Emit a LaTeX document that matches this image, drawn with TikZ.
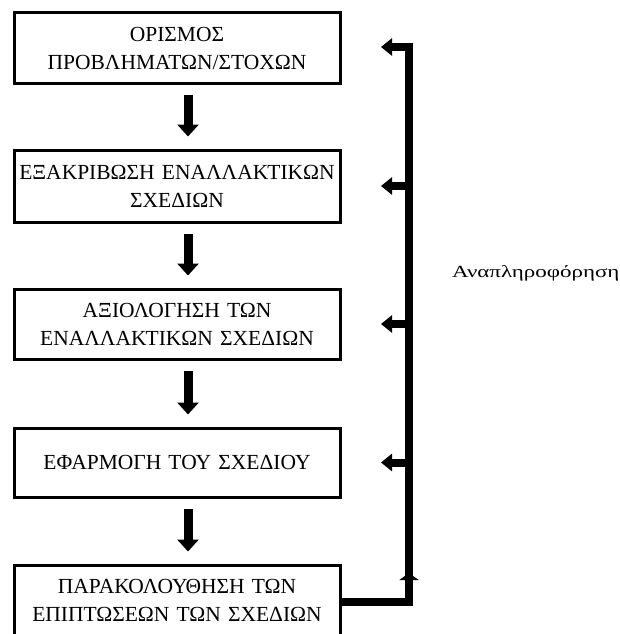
\documentclass[tikz,border=0pt]{standalone}
\usepackage{fontspec}
\setmainfont{Liberation Serif}
\newfontfamily\widefont[FakeStretch=1.35]{Liberation Serif}
\usetikzlibrary{calc}
\usetikzlibrary{arrows.meta}

\tikzset{
	stage/.style={draw, line width=3pt, minimum width=326pt, minimum height=70pt, text width=326pt, align=center, inner sep=0pt, font=\fontsize{21.5}{28}\selectfont},
	flowarrow/.style={line width=9pt, -{Triangle[length=12pt,width=21pt]}, shorten <=10pt, shorten >=12pt},
	fbarrow/.style={line width=8pt, -{Triangle[length=11pt,width=17pt]}},
}

\begin{document}
\begin{tikzpicture}[x=1pt,y=-1pt]
					\useasboundingbox (0,0) rectangle (619,634);
					\node[stage] (b1) at (177,48) {ΟΡΙΣΜΟΣ\\ΠΡΟΒΛΗΜΑΤΩΝ/ΣΤΟΧΩΝ};
					\node[stage, minimum height=72pt] (b2) at (177,186) {ΕΞΑΚΡΙΒΩΣΗ ΕΝΑΛΛΑΚΤΙΚΩΝ\\ΣΧΕΔΙΩΝ};
					\node[stage] (b3) at (177,324) {ΑΞΙΟΛΟΓΗΣΗ ΤΩΝ\\ΕΝΑΛΛΑΚΤΙΚΩΝ ΣΧΕΔΙΩΝ};
					\node[stage, minimum height=69pt] (b4) at (177,462.5) {ΕΦΑΡΜΟΓΗ ΤΟΥ ΣΧΕΔΙΟΥ};
					\node[stage] (b5) at (177,600) {ΠΑΡΑΚΟΛΟΥΘΗΣΗ ΤΩΝ\\ΕΠΙΠΤΩΣΕΩΝ ΤΩΝ ΣΧΕΔΙΩΝ};
					\node[anchor=base west, inner sep=0pt, font=\widefont\fontsize{17}{20}\selectfont] (fb) at (452,277) {Αναπληροφόρηση};

					\foreach \a/\b in {b1/b2,b2/b3,b3/b4,b4/b5}
						\draw[flowarrow] ([xshift=11pt]\a.south) -- ([xshift=11pt]\b.north);

					\coordinate (fbtop) at (409,47);
					\coordinate (fbend) at (381,47);
					\coordinate (fbbot) at (409,602);
					\coordinate (fbmid) at (409,573);
					\draw[fbarrow] (b5.east |- fbbot) -| (fbtop) -- (fbend);
					\draw[line width=8pt, -{Triangle[length=7pt,width=19pt]}] (fbbot) -- (fbmid);
					\foreach \b in {b2,b3,b4}
						\draw[fbarrow] (fbtop |- \b.east) -- (fbend |- \b.east);
\end{tikzpicture}
\end{document}
